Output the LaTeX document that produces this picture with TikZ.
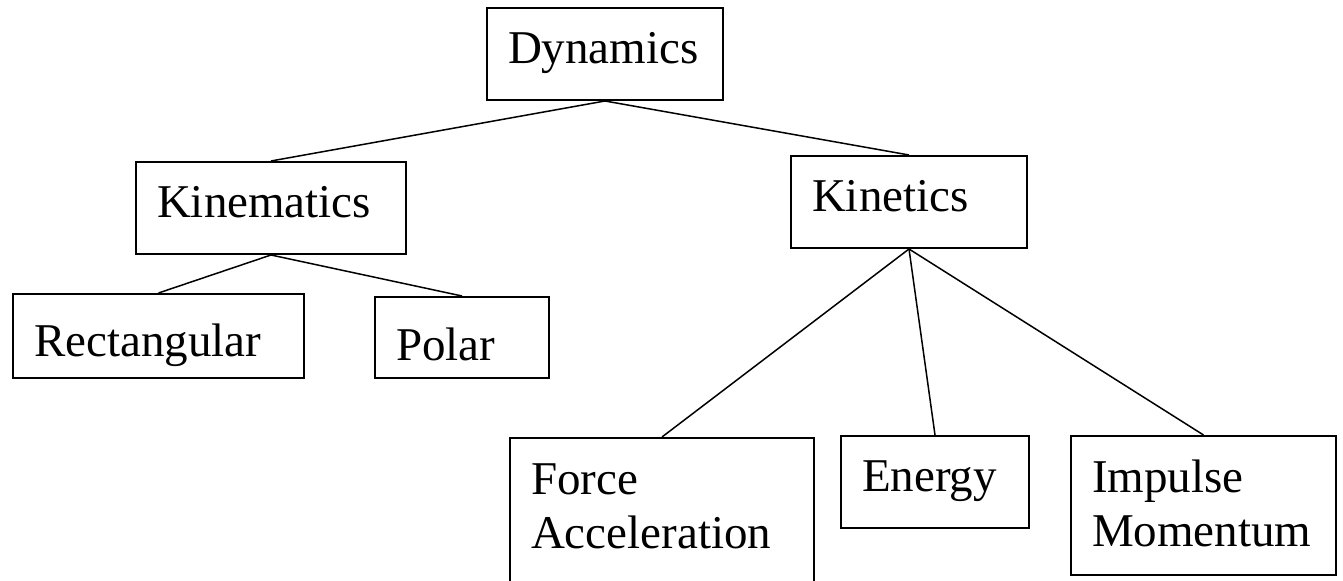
\documentclass[tikz,border=0pt]{standalone}
\usepackage{fontspec}
\setmainfont{Liberation Serif}
\usepackage{tikz}
\usetikzlibrary{positioning}
\tikzset{basic/.style={draw,line width=1pt,anchor=north west,align=left,inner xsep=10.5pt,inner ysep=0pt,font=\fontsize{23.5pt}{27pt}\selectfont}}
\tikzset{topic/.style={basic,text height=28pt,text depth=18pt}}
\tikzset{leaf/.style={basic,text height=28.5pt}}
\tikzset{link/.style={draw,line width=0.75pt}}

\begin{document}
\begin{tikzpicture}[x=0.5pt,y=-0.5pt]
        \useasboundingbox (0,0) rectangle (1343,581);
        \node[topic,text width=97pt] (dyn) at (486,7) {Dynamics};
        \node[topic,text width=114pt] (kinem) at (135,161) {Kinematics};
        \node[topic,text width=97pt] (kinet) at (790,155) {Kinetics};
        \node[basic,text width=124.5pt,text height=31.5pt,text depth=10.5pt] (rect) at (12,293) {Rectangular};
        \node[basic,text width=66pt,text height=32pt,text depth=8.5pt] (polar) at (374,296) {Polar};
        \node[leaf,text width=131pt,text depth=51.5pt] (force) at (509,437) {Force\\Acceleration};
        \node[topic,text width=73pt] (energy) at (840,435) {Energy};
        \node[leaf,text width=111.5pt,text depth=41pt] (impulse) at (1070,435) {Impulse\\Momentum};
            \path[link] (dyn.south) -- (kinem.north);
            \path[link] (dyn.south) -- (kinet.north);
            \path[link] (kinem.south) -- (rect.north);
            \path[link] (kinem.south) -- (polar.north);
            \path[link] (kinet.south) -- (force.north);
            \path[link] (kinet.south) -- (energy.north);
            \path[link] (kinet.south) -- (impulse.north);
    \end{tikzpicture}
\end{document}
